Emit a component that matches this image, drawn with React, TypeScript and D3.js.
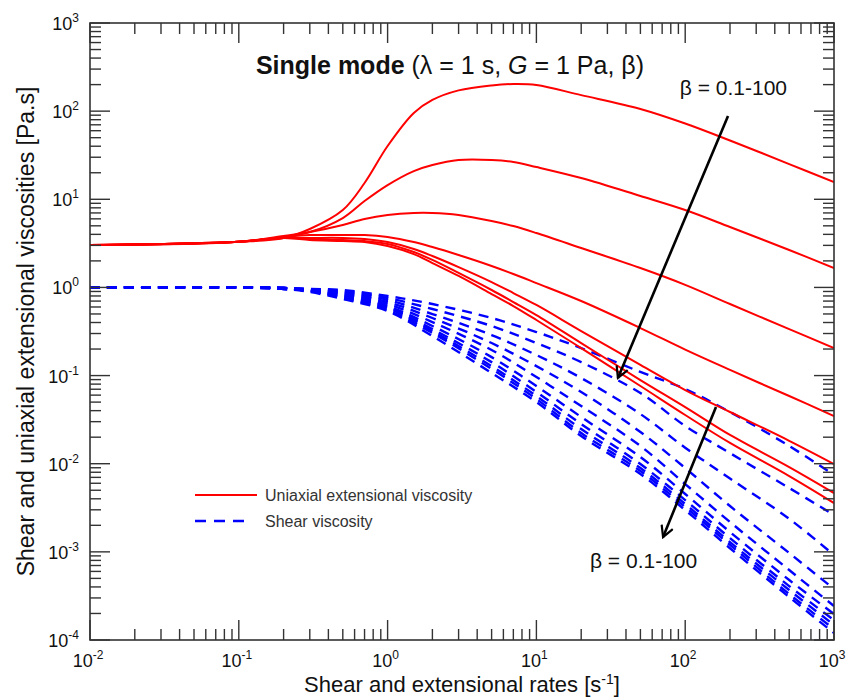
import React from "react";
import * as d3 from "d3";

const width = 860;
const height = 697;
const margin = { top: 23, right: 26, bottom: 57, left: 90 };

// rates [1/s] at which the curves were read
const extRates = [0.01, 0.1, 0.2, 0.3, 0.5, 0.7, 1, 1.5, 2, 3, 5, 7, 10, 20, 50, 100, 200, 500, 1000];
const shearRates = [0.01, 0.1, 0.2, 0.3, 0.5, 1, 2, 5, 10, 20, 50, 100, 200, 500, 1000];

// uniaxial extensional viscosity [Pa.s], beta increasing downwards
const ext1 = [3.03, 3.3, 3.64, 4.6, 7.55, 15.3, 40.2, 95.3, 134, 172, 196, 203, 198, 152, 106, 72.5, 46.5, 25.1, 15.7];
const ext2 = [3.03, 3.3, 3.73, 4.25, 6.13, 9.56, 14.5, 20.9, 24.5, 27.9, 27.9, 26.5, 23.2, 17.4, 10.9, 7.55, 4.85, 2.66, 1.66];
const ext3 = [3.03, 3.3, 3.83, 4.25, 5.11, 5.97, 6.63, 6.99, 6.99, 6.63, 5.67, 4.97, 4.14, 2.8, 1.66, 1.07, 0.648, 0.337, 0.205];
const ext4 = [3.03, 3.3, 3.73, 3.93, 3.93, 3.93, 3.73, 3.27, 2.87, 2.33, 1.75, 1.42, 1.12, 0.701, 0.346, 0.197, 0.116, 0.0586, 0.0348];
const ext5 = [3.03, 3.3, 3.64, 3.64, 3.64, 3.54, 3.27, 2.73, 2.27, 1.7, 1.15, 0.864, 0.632, 0.32, 0.132, 0.0685, 0.0386, 0.0182, 0.00992];
const ext6 = [3.03, 3.3, 3.64, 3.54, 3.45, 3.36, 3.11, 2.52, 2.05, 1.46, 0.935, 0.683, 0.486, 0.234, 0.089, 0.0439, 0.0212, 0.00917, 0.00465];
const ext7 = [3.03, 3.3, 3.64, 3.45, 3.36, 3.27, 2.95, 2.39, 1.89, 1.35, 0.842, 0.615, 0.427, 0.205, 0.0761, 0.0357, 0.0172, 0.00725, 0.00358];

// shear viscosity [Pa.s]
const shear1 = [1, 1, 0.985, 0.959, 0.935, 0.799, 0.648, 0.45, 0.312, 0.205, 0.11, 0.0704, 0.0386, 0.0159, 0.00744];
const shear2 = [1, 1, 0.985, 0.959, 0.911, 0.758, 0.569, 0.365, 0.234, 0.142, 0.0634, 0.0268, 0.0132, 0.0053, 0.00262];
const shear3 = [1, 1, 0.985, 0.935, 0.887, 0.72, 0.499, 0.288, 0.171, 0.0938, 0.0366, 0.0152, 0.0068, 0.00237, 0.00092];
const shear4 = [1, 1, 0.985, 0.935, 0.864, 0.683, 0.45, 0.234, 0.128, 0.0651, 0.0229, 0.00893, 0.00331, 0.00097, 0.000379];
const shear5 = [1, 1, 0.985, 0.935, 0.842, 0.648, 0.405, 0.195, 0.0963, 0.0451, 0.0159, 0.00588, 0.00218, 0.000622, 0.000243];
const shear6 = [1, 1, 0.985, 0.911, 0.82, 0.615, 0.365, 0.162, 0.0761, 0.0339, 0.0119, 0.00453, 0.00168, 0.000479, 0.000197];
const shear7 = [1, 1, 0.985, 0.911, 0.799, 0.599, 0.337, 0.142, 0.0651, 0.0282, 0.00992, 0.00387, 0.00143, 0.000409, 0.000168];
const shear8 = [1, 1, 0.959, 0.911, 0.778, 0.584, 0.32, 0.128, 0.0586, 0.0247, 0.00893, 0.00349, 0.00129, 0.000369, 0.000148];
const shear9 = [1, 1, 0.959, 0.911, 0.758, 0.554, 0.304, 0.119, 0.0542, 0.0223, 0.00826, 0.00323, 0.0012, 0.000332, 0.000133];
const shear10 = [1, 1, 0.959, 0.887, 0.739, 0.54, 0.281, 0.107, 0.0501, 0.0206, 0.00764, 0.00298, 0.0011, 0.000307, 0.00012];

const extCurves = [ext1, ext2, ext3, ext4, ext5, ext6, ext7];
const shearCurves = [shear1, shear2, shear3, shear4, shear5, shear6, shear7, shear8, shear9, shear10];

const xDecades = [-2, -1, 0, 1, 2, 3];
const yDecades = [-4, -3, -2, -1, 0, 1, 2, 3];

// annotation arrows, in data units [rate, viscosity]
const arrowTop = [[194, 88], [35.3, 0.094]];
const arrowBottom = [[161, 0.044], [71, 0.00147]];

const font = "Arial, 'Liberation Sans', sans-serif";

const App: React.FC = () => {
  const x = d3.scaleLog().domain([1e-2, 1e3]).range([margin.left, width - margin.right]);
  const y = d3.scaleLog().domain([1e-4, 1e3]).range([height - margin.bottom, margin.top]);
  const [x0, x1] = x.range();
  const [y0, y1] = y.range();

  const line = d3
    .line<[number, number]>()
    .x((d) => x(d[0]))
    .y((d) => y(d[1]))
    .curve(d3.curveCatmullRom.alpha(0.5));

  const xTicks = x.ticks();
  const yTicks = y.ticks();
  const isMajor = (v: number) => Math.abs(Math.log10(v) - Math.round(Math.log10(v))) < 1e-9;
  const axisColor = "#333";

  return (
    <svg width={width} height={height} style={{ position: "absolute", left: 0, top: 0, background: "#fff" }} fontFamily={font}>
      <defs>
        <clipPath id="plot">
          <rect x={x0} y={y1} width={x1 - x0} height={y0 - y1} />
        </clipPath>
        <marker id="head" viewBox="0 0 14 14" refX="12" refY="7" markerWidth="14" markerHeight="14" orient="auto" markerUnits="userSpaceOnUse">
          <path d="M1,1 L12,7 L1,13" fill="none" stroke="#000" strokeWidth={2.2} />
        </marker>
      </defs>

      {/* curves */}
      <g clipPath="url(#plot)" fill="none">
        {shearCurves.map((c, i) => (
          <path key={"s" + i} d={line(shearRates.map((r, j) => [r, c[j]]) as [number, number][]) || ""} stroke="#0000ff" strokeWidth={2.4} strokeDasharray="10 7" />
        ))}
        {extCurves.map((c, i) => (
          <path key={"e" + i} d={line(extRates.map((r, j) => [r, c[j]]) as [number, number][]) || ""} stroke="#ff0000" strokeWidth={2} />
        ))}
      </g>

      {/* ticks on all four sides, pointing inward */}
      <g stroke={axisColor} strokeWidth={1.4}>
        {xTicks.map((t, i) => {
          const len = isMajor(t) ? 20 : 11;
          return (
            <g key={"xt" + i}>
              <line x1={x(t)} x2={x(t)} y1={y0} y2={y0 - len} />
              <line x1={x(t)} x2={x(t)} y1={y1} y2={y1 + len} />
            </g>
          );
        })}
        {yTicks.map((t, i) => {
          const len = isMajor(t) ? 20 : 11;
          return (
            <g key={"yt" + i}>
              <line x1={x0} x2={x0 + len} y1={y(t)} y2={y(t)} />
              <line x1={x1} x2={x1 - len} y1={y(t)} y2={y(t)} />
            </g>
          );
        })}
      </g>
      <rect x={x0} y={y1} width={x1 - x0} height={y0 - y1} fill="none" stroke={axisColor} strokeWidth={1.6} />

      {/* tick labels */}
      <g fill="#111" fontSize={18}>
        {xDecades.map((e) => (
          <text key={"xl" + e} x={x(Math.pow(10, e)) - 2} y={y0 + 27} textAnchor="middle">
            10<tspan dy={-8} fontSize={12}>{e}</tspan>
          </text>
        ))}
        {yDecades.map((e) => (
          <text key={"yl" + e} x={x0 - 11} y={y(Math.pow(10, e)) + 7} textAnchor="end">
            10<tspan dy={-8} fontSize={12}>{e}</tspan>
          </text>
        ))}
      </g>

      {/* axis titles */}
      <text x={(x0 + x1) / 2} y={height - 5} textAnchor="middle" fontSize={22} fill="#111">
        Shear and extensional rates [s<tspan dy={-8} fontSize={14}>-1</tspan><tspan dy={8}>]</tspan>
      </text>
      <text transform={`translate(34,${(y0 + y1) / 2}) rotate(-90)`} textAnchor="middle" fontSize={23} fill="#111">
        Shear and uniaxial extensional viscosities [Pa.s]
      </text>

      {/* title */}
      <text x={450} y={74} textAnchor="middle" fontSize={25} fill="#111">
        <tspan fontWeight="bold">Single mode</tspan> (λ = 1 s, <tspan fontStyle="italic">G</tspan> = 1 Pa, β)
      </text>

      {/* beta annotations */}
      <g fill="none" stroke="#000" strokeWidth={2.6}>
        <line x1={x(arrowTop[0][0])} y1={y(arrowTop[0][1])} x2={x(arrowTop[1][0])} y2={y(arrowTop[1][1])} markerEnd="url(#head)" />
        <line x1={x(arrowBottom[0][0])} y1={y(arrowBottom[0][1])} x2={x(arrowBottom[1][0])} y2={y(arrowBottom[1][1])} markerEnd="url(#head)" />
      </g>
      <text x={x(92)} y={y(152)} fontSize={21} fill="#111">β = 0.1-100</text>
      <text x={x(22.9)} y={y(6.55e-4)} fontSize={21} fill="#111">β = 0.1-100</text>

      {/* legend */}
      <line x1={195} x2={257} y1={495} y2={495} stroke="#ff0000" strokeWidth={2.2} />
      <text x={265} y={501} fontSize={16} fill="#333">Uniaxial extensional viscosity</text>
      <line x1={195} x2={251} y1={521} y2={521} stroke="#0000ff" strokeWidth={2.4} strokeDasharray="11 8" />
      <text x={265} y={527} fontSize={16} fill="#333">Shear viscosity</text>
    </svg>
  );
};

export default App;
